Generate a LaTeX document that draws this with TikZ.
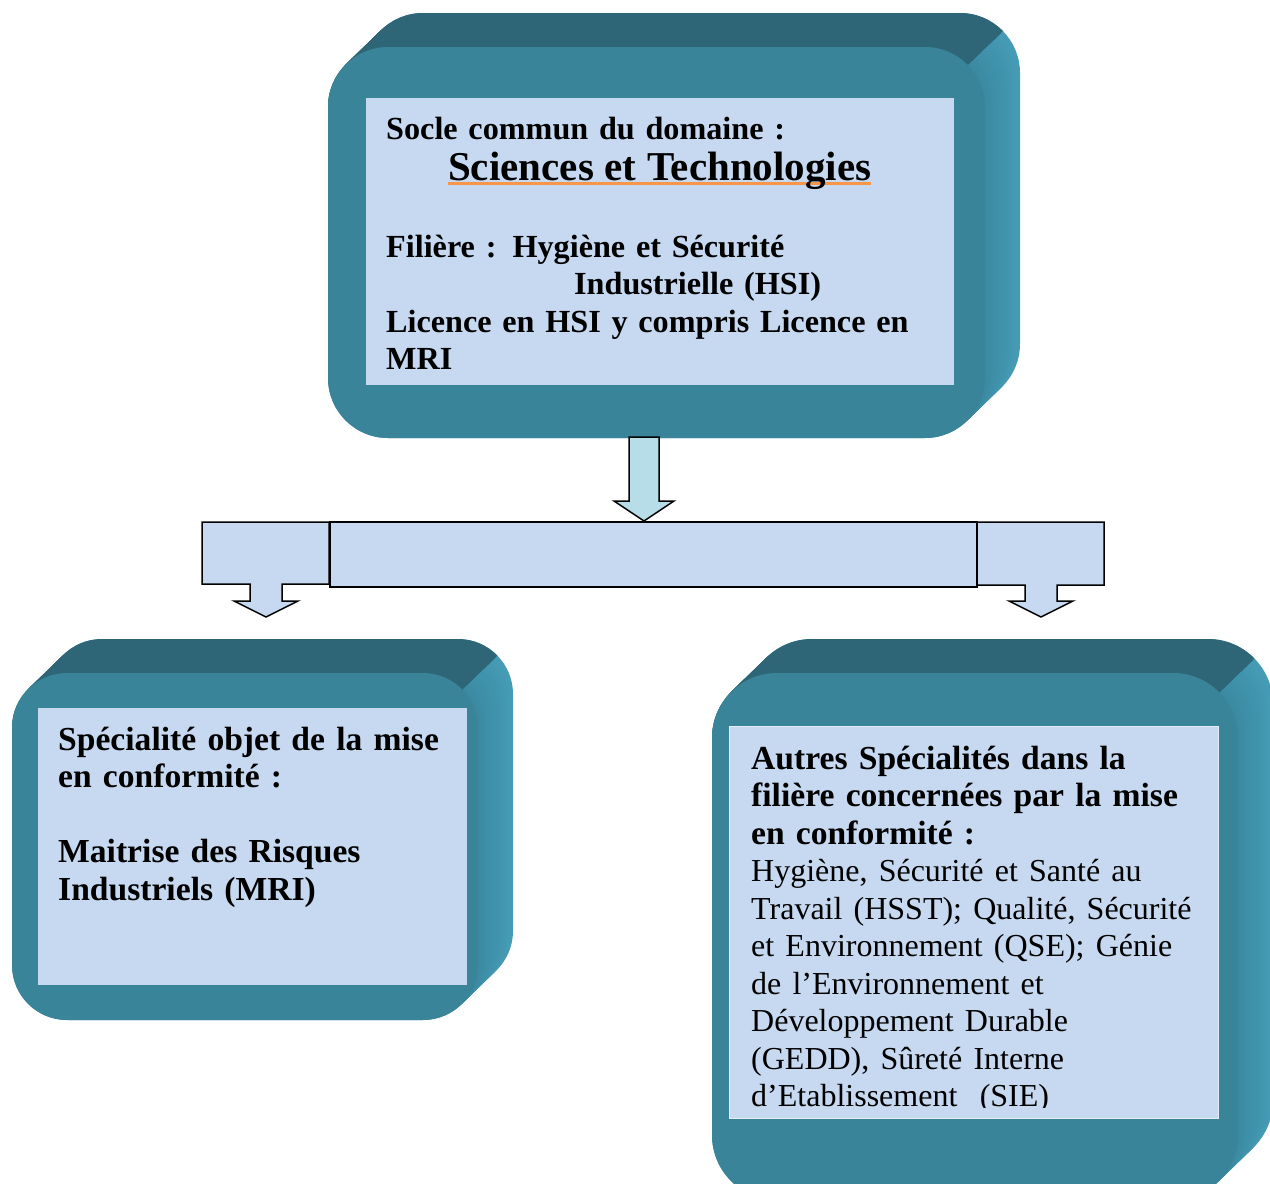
\documentclass[tikz,border=0pt]{standalone}
\usepackage{fontspec}
\setmainfont{Liberation Serif}
\usetikzlibrary{calc}

\definecolor{face}{HTML}{3A8499}
\definecolor{dessus}{HTML}{2E6677}
\definecolor{flancclair}{HTML}{469CB6}
\definecolor{flancfonce}{HTML}{3A89A1}
\definecolor{fondpanneau}{HTML}{C6D9F0}
\definecolor{flechebleue}{HTML}{B7DEE8}
\definecolor{soulign}{HTML}{F79646}

\newsavebox{\boitesoulign}
\newcommand{\soulignement}[1]{\sbox{\boitesoulign}{#1}\rlap{\textcolor{soulign}{\rule[-5pt]{\wd\boitesoulign}{3.5pt}}}\usebox{\boitesoulign}}

\newcommand{\blocrelief}[5]{%
  \foreach \k in {20,19,...,0}{
    \pgfmathtruncatemacro{\pct}{5*\k}
    \fill[flancclair!\pct!flancfonce, rounded corners=#5pt] ({#1+1.75*\k},{#2-1.7*\k}) rectangle ({#3+1.75*\k},{#4-1.7*\k});
  }
  \begin{scope}
    \clip ({#1-60},{#2-80}) -- ({#3-0.293*#5+70},{#2+0.293*#5-66}) -- ({#3-0.293*#5-105},{#2+0.293*#5+99}) -- ({#1-60},{#2+0.293*#5+99}) -- cycle;
    \foreach \k in {20,19,...,0}{
      \fill[dessus, rounded corners=#5pt] ({#1+1.75*\k},{#2-1.7*\k}) rectangle ({#3+1.75*\k},{#4-1.7*\k});
    }
  \end{scope}
  \fill[face, rounded corners=#5pt] (#1,#2) rectangle (#3,#4);
}

\begin{document}
\begin{tikzpicture}[x=1pt, y=-1pt,
    panneau/.style={fill=fondpanneau, inner sep=0pt, anchor=north west},
    texte/.style={align=left, inner sep=0pt, anchor=base west, font=\fontsize{33.6}{37.5}\selectfont\bfseries},
    contour/.style={draw=black, line width=1.5pt, fill=fondpanneau, line join=miter}]
    \useasboundingbox (0,0) rectangle (1270,1184);
    \clip (0,0) rectangle (1270,1184);

    \blocrelief{328}{47}{985}{438}{60}
    \blocrelief{12}{673}{478}{1020}{55}
    \blocrelief{712}{673}{1238}{1200}{65}

    \node[panneau, minimum width=588pt, minimum height=287pt] (socle) at (366,98) {};
    \node[panneau, minimum width=429pt, minimum height=277pt] (mri) at (38,708) {};
    \node[panneau, minimum width=489pt, minimum height=392pt, draw=white!55!fondpanneau, line width=1.2pt] (autres) at (729,726) {};

    \node[texte, text width=560pt, font=\fontsize{32.2}{37.5}\selectfont\bfseries] (soclelignes) at (386,139) {Socle commun du domaine :\\[3.5pt]
      \hspace*{62pt}{\fontsize{41}{41}\selectfont\soulignement{Sciences et Technologies}}\\[39.5pt]
      Filière : Hygiène et Sécurité\\
      \hspace*{188pt}Industrielle (HSI)\\
      Licence en HSI y compris Licence en\\
      MRI};

    \node[texte, text width=420pt] (mrilignes) at (58,750) {Spécialité objet de la mise\\
      en conformité :\\[37.5pt]
      Maitrise des Risques\\
      Industriels (MRI)};

    \begin{scope}
      \clip (729,726) rectangle (1218,1107);
      \node[texte, text width=470pt] (autreslignes) at (751,769) {Autres Spécialités dans la\\
        filière concernées par la mise\\
        en conformité :\\
        \mdseries\fontsize{32}{37.5}\selectfont Hygiène, Sécurité et Santé au\\
        Travail (HSST); Qualité, Sécurité\\
        et Environnement (QSE); Génie\\
        de l’Environnement et\\
        Développement Durable\\
        (GEDD), Sûreté Interne\\
        d’Etablissement\ \ (SIE)};
    \end{scope}

    \draw[contour] (202,522) -- (329,522) -- (329,584) -- (282,584) -- (282,601) -- (298,601) -- (266,617) -- (234,601) -- (250,601) -- (250,584) -- (202,584) -- cycle;
    \draw[contour] (976,522) -- (1104,522) -- (1104,585) -- (1057,585) -- (1057,601) -- (1073,601) -- (1041,617) -- (1009,601) -- (1025,601) -- (1025,585) -- (976,585) -- cycle;
    \node[contour, minimum width=647pt, minimum height=65pt, anchor=north west, inner sep=0pt] (barre) at (329,521) {};

    \coordinate (pointe) at (644,521);
    \draw[contour, fill=flechebleue] ($(pointe)+(-15,-84)$) -- ++(30,0) -- ++(0,64) -- ++(15,0) -- (pointe) -- ++(-30,-20) -- ++(15,0) -- cycle;
\end{tikzpicture}
\end{document}
